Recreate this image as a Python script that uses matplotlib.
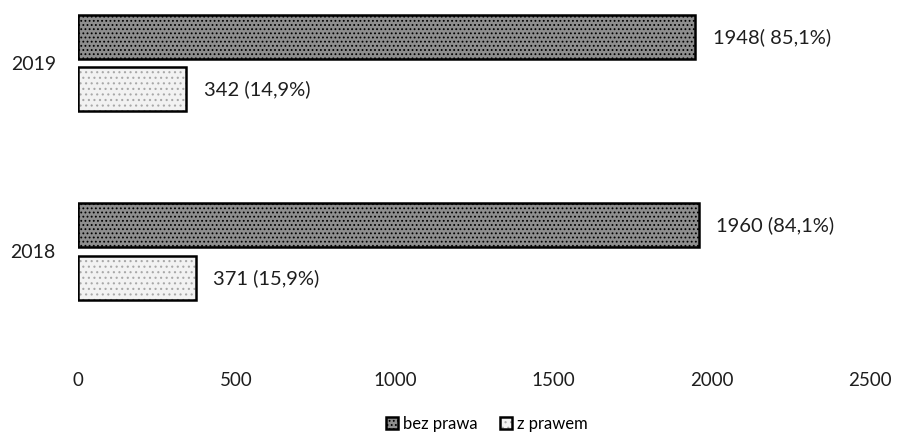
import numpy as np
import matplotlib
matplotlib.use("Agg")
from matplotlib import pyplot as plt

# data
years = ["2018", "2019"]
bez_prawa = [1960, 1948]
z_prawem = [371, 342]
labels_bez = ["1960 (84,1%)", "1948( 85,1%)"]
labels_z = ["371 (15,9%)", "342 (14,9%)"]
x_ticks = [0, 500, 1000, 1500, 2000, 2500]

plt.rcParams['font.family'] = ['Lato', 'DejaVu Sans']
plt.rcParams['hatch.linewidth'] = 0.8
plt.rcParams['hatch.color'] = '#4a4a4a'

fig = plt.figure(figsize=(8.97, 4.33), dpi=100)
ax = fig.add_axes([78 / 897, 78 / 433, 792 / 897, 355 / 433])

y = np.arange(len(years))
h = 0.234
off = 0.14

b1 = ax.barh(y + off, bez_prawa, height=h, color='#8e8e8e', edgecolor='black',
             linewidth=1.8, hatch='....', label='bez prawa')
b2 = ax.barh(y - off, z_prawem, height=h, color='#f2f2f2', edgecolor='black',
             linewidth=1.8, hatch='...', label='z prawem')
for p in b2:
    p._hatch_color = matplotlib.colors.to_rgba('#a8a8a8')

# value labels
for _y, _v, _t in zip(y + off, bez_prawa, labels_bez):
    ax.text(_v + 55, _y, _t, va='center', ha='left', fontsize=14.5, color='#1e1e1e')
for _y, _v, _t in zip(y - off, z_prawem, labels_z):
    ax.text(_v + 55, _y, _t, va='center', ha='left', fontsize=14.5, color='#1e1e1e')

ax.set_xlim(0, 2500)
ax.set_ylim(-0.55, 1.335)
ax.set_xticks(x_ticks)
ax.set_xticklabels([str(v) for v in x_ticks], fontsize=13.5, color='#1e1e1e')
ax.set_yticks(y)
ax.set_yticklabels(years, fontsize=14, color='#1e1e1e')
ax.tick_params(axis='both', length=0)
ax.tick_params(axis='x', pad=12)
ax.tick_params(axis='y', pad=16)
for s in ax.spines.values():
    s.set_visible(False)

fig.legend(handles=[b1, b2], loc='center', bbox_to_anchor=(487 / 897, 1 - 424 / 433),
           ncol=2, frameon=False, fontsize=12, handlelength=0.75, handleheight=0.75,
           handletextpad=0.3, columnspacing=1.3)

fig.savefig("out.png", dpi=100)
